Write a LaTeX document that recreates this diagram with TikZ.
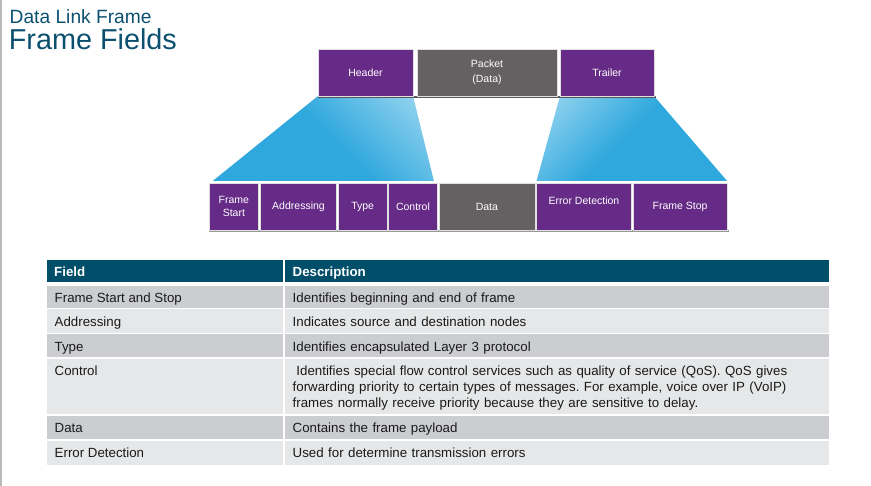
\documentclass[tikz,border=0pt]{standalone}
\usepackage{fontspec}
\setmainfont{Liberation Sans}
\usepackage{tikz}
\usetikzlibrary{positioning}
\usetikzlibrary{calc,backgrounds}
\frenchspacing
\definecolor{titleblue}{RGB}{12,80,112}
\definecolor{headteal}{RGB}{0,78,106}
\definecolor{fieldpurple}{RGB}{101,43,135}
\definecolor{packetgray}{RGB}{101,97,98}
\definecolor{fanblue}{RGB}{47,168,221}
\definecolor{fanlight}{RGB}{142,209,238}
\definecolor{rowdark}{RGB}{203,205,209}
\definecolor{rowlight}{RGB}{230,231,232}
\definecolor{celltext}{RGB}{26,26,26}
\pgfdeclareverticalshading{fanshade}{100bp}{color(0bp)=(fanblue); color(52bp)=(fanblue); color(80bp)=(fanlight); color(100bp)=(fanlight)}
\tikzset{fieldbox/.style={rectangle, draw=black!12, line width=0.8pt, fill=fieldpurple, text=white,
  minimum height=47pt, inner sep=0pt, outer sep=0pt, align=center, font=\fontsize{10.5}{13}\selectfont}}
\tikzset{databox/.style={fieldbox, fill=packetgray}}
\tikzset{celltxt/.style={inner sep=0pt, anchor=base west, align=left, text=celltext, font=\fontsize{13.3}{15.7}\selectfont\frenchspacing}}
\tikzset{headtxt/.style={celltxt, text=white, font=\fontsize{13.3}{15.7}\selectfont\bfseries}}

\begin{document}
\begin{tikzpicture}[x=1pt,y=-1pt]
\useasboundingbox (0,0) rectangle (871,486);
\draw[black!28, line width=1.5pt] (1,0) -- (1,486);
\node[inner sep=0pt, anchor=base west, text=titleblue, font=\fontsize{19.2}{22}\selectfont] (sub) at (9.5,24) {Data Link Frame};
\node[inner sep=0pt, anchor=base west, text=titleblue, font=\fontsize{28.8}{32}\selectfont] (ttl) at (8.7,50) {Frame Fields};

\node[fieldbox, minimum width=95pt, anchor=north west] (hdr) at (318,49) {Header};
\node[databox, minimum width=140pt, right=4pt of hdr] (pkt) {Packet\\[2pt](Data)};
\node[fieldbox, minimum width=94pt, right=3pt of pkt] (trl) {Trailer};

\node[fieldbox, minimum width=49.7pt, anchor=north west] (fst) at (209,183) {Frame\\Start};
\node[fieldbox, minimum width=76.4pt, right=1.6pt of fst] (adr) {Addressing};
\node[fieldbox, minimum width=48.7pt, right=1.6pt of adr] (typ) {Type};
\node[fieldbox, minimum width=48.7pt, right=1.6pt of typ] (ctl) {Control};
\node[databox, minimum width=96pt, right=1.6pt of ctl] (dat) {Data};
\node[fieldbox, minimum width=95pt, right=1.6pt of dat, text depth=11pt] (err) {Error Detection};
\node[fieldbox, minimum width=94pt, right=1.6pt of err] (fsp) {Frame Stop};

\begin{scope}[on background layer]
\shade[shading=fanshade, shading angle=-45]
  (hdr.south west) -- (hdr.south east) -- ($(ctl.north east)+(-3.4,-2)$) -- ($(fst.north west)+(3.7,-2)$) -- cycle;
\shade[shading=fanshade, shading angle=45]
  (trl.south west) -- (trl.south east) -- ($(fsp.north east)+(0,-2)$) -- ($(err.north west)+(0,-2)$) -- cycle;
\fill[black!65] (hdr.south west) rectangle ($(trl.south east)+(2,2.5)$);
\fill[black!40] (fst.south west) rectangle ($(fsp.south east)+(2,2.2)$);
\end{scope}

\fill[headteal] (46.7,260) rectangle (283.3,282.3);
\fill[headteal] (285.3,260) rectangle (829,282.3);
\node[headtxt] (hfld) at (54,277) {Field};
\node[headtxt] (hdsc) at (292.5,277) {Description};

\foreach \rtop/\rbot/\rowcol/\fld/\dsc [count=\i] in {
  285.7/307.7/rowdark/{Frame Start and Stop}/{Identifies beginning and end of frame},
  309.3/332.7/rowlight/{Addressing}/{Indicates source and destination nodes},
  334.3/357.3/rowdark/{Type}/{Identifies encapsulated Layer 3 protocol},
  359/414/rowlight/{Control}/{\hspace*{0.28em}Identifies special flow control services such as quality of service (QoS). QoS gives\\forwarding priority to certain types of messages. For example, voice over IP (VoIP)\\frames normally receive priority because they are sensitive to delay.},
  415.7/439.3/rowdark/{Data}/{Contains the frame payload},
  441/465/rowlight/{Error Detection}/{Used for determine transmission errors}} {
\fill[\rowcol] (46.7,\rtop) rectangle (283.3,\rbot);
\fill[\rowcol] (285.3,\rtop) rectangle (829,\rbot);
\node[celltxt] (f\i) at (54.5,\rtop+17) {\fld};
\node[celltxt, text width=536pt] (d\i) at (292.5,\rtop+17) {\dsc};
}
\end{tikzpicture}
\end{document}
